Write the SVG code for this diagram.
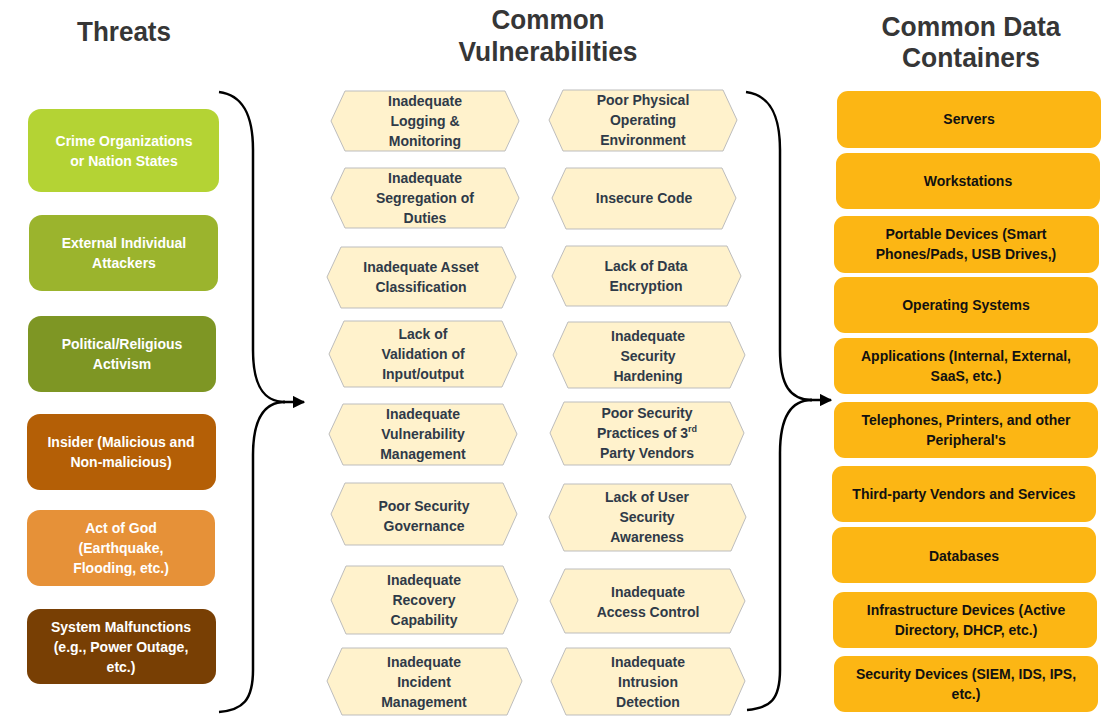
<svg xmlns="http://www.w3.org/2000/svg" width="1118" height="723" viewBox="0 0 1118 723">
<defs>
<style>
.hdr{font-family:"Liberation Sans",Arial,sans-serif;font-weight:bold;font-size:27px;fill:#363636;text-anchor:middle}
.t{font-family:"Liberation Sans",Arial,sans-serif;font-weight:bold;font-size:14px;text-anchor:middle}
.tw{fill:#ffffff}
.tv{fill:#2F3A48}
.tk{fill:#111111}
.hex{fill:#FFF2CC;stroke:#BDBDBD;stroke-width:1}
.box{stroke:none}
.cont{fill:#FCB614}
.br{fill:none;stroke:#000;stroke-width:2.5}
</style>
<marker id="ah" viewBox="0 0 10 10" refX="9" refY="5" markerWidth="5" markerHeight="5" markerUnits="strokeWidth" orient="auto">
<path d="M0,0 L10,5 L0,10 z" fill="#000"/>
</marker>
</defs>
<rect width="1118" height="723" fill="#ffffff"/>

<g id="headers">
<text class="hdr" x="124" y="41" textLength="94" lengthAdjust="spacingAndGlyphs">Threats</text>
<text class="hdr" x="548" y="29" textLength="113" lengthAdjust="spacingAndGlyphs">Common</text>
<text class="hdr" x="548" y="61" textLength="179" lengthAdjust="spacingAndGlyphs">Vulnerabilities</text>
<text class="hdr" x="971" y="36" textLength="179" lengthAdjust="spacingAndGlyphs">Common Data</text>
<text class="hdr" x="971" y="67" textLength="138" lengthAdjust="spacingAndGlyphs">Containers</text>
</g>

<g id="threats">
<g id="t1"><rect class="box" x="28" y="109" width="191" height="83" rx="13" fill="#B4D334"/>
<text class="t tw" x="124"><tspan x="124" y="146">Crime Organizations</tspan><tspan x="124" y="166">or Nation States</tspan></text></g>
<g id="t2"><rect class="box" x="29" y="215" width="189" height="76" rx="13" fill="#9BB42D"/>
<text class="t tw" x="124"><tspan x="124" y="248">External Individual</tspan><tspan x="124" y="268">Attackers</tspan></text></g>
<g id="t3"><rect class="box" x="28" y="316" width="188" height="76" rx="13" fill="#7E9624"/>
<text class="t tw" x="122"><tspan x="122" y="349">Political/Religious</tspan><tspan x="122" y="369">Activism</tspan></text></g>
<g id="t4"><rect class="box" x="27" y="414" width="189" height="76" rx="13" fill="#B45F06"/>
<text class="t tw" x="121"><tspan x="121" y="447">Insider (Malicious and</tspan><tspan x="121" y="467">Non-malicious)</tspan></text></g>
<g id="t5"><rect class="box" x="27" y="510" width="188" height="76" rx="13" fill="#E69138"/>
<text class="t tw" x="121"><tspan x="121" y="533">Act of God</tspan><tspan x="121" y="553">(Earthquake,</tspan><tspan x="121" y="573">Flooding, etc.)</tspan></text></g>
<g id="t6"><rect class="box" x="27" y="609" width="189" height="75" rx="13" fill="#783F04"/>
<text class="t tw" x="121"><tspan x="121" y="632">System Malfunctions</tspan><tspan x="121" y="652">(e.g., Power Outage,</tspan><tspan x="121" y="672">etc.)</tspan></text></g>
</g>

<g id="vulnerabilities">
<g id="v1"><polygon class="hex" points="331,121 345,91 505,91 519,121 505,151 345,151"/>
<text class="t tv"><tspan x="425" y="106">Inadequate</tspan><tspan x="425" y="126">Logging &amp;</tspan><tspan x="425" y="146">Monitoring</tspan></text></g>
<g id="v2"><polygon class="hex" points="331,198 345,168 505,168 519,198 505,228 345,228"/>
<text class="t tv"><tspan x="425" y="183">Inadequate</tspan><tspan x="425" y="203">Segregation of</tspan><tspan x="425" y="223">Duties</tspan></text></g>
<g id="v3"><polygon class="hex" points="327,277 341,247 502,247 516,277 502,308 341,308"/>
<text class="t tv"><tspan x="421" y="272">Inadequate Asset</tspan><tspan x="421" y="292">Classification</tspan></text></g>
<g id="v4"><polygon class="hex" points="329,354 344,321 502,321 517,354 502,387 344,387"/>
<text class="t tv"><tspan x="423" y="339">Lack of</tspan><tspan x="423" y="359">Validation of</tspan><tspan x="423" y="379">Input/output</tspan></text></g>
<g id="v5"><polygon class="hex" points="329,434 343,404 503,404 517,434 503,465 343,465"/>
<text class="t tv"><tspan x="423" y="419">Inadequate</tspan><tspan x="423" y="439">Vulnerability</tspan><tspan x="423" y="459">Management</tspan></text></g>
<g id="v6"><polygon class="hex" points="331,514 345,483 503,483 517,514 503,545 345,545"/>
<text class="t tv"><tspan x="424" y="511">Poor Security</tspan><tspan x="424" y="531">Governance</tspan></text></g>
<g id="v7"><polygon class="hex" points="331,600 346,566 503,566 518,600 503,634 346,634"/>
<text class="t tv"><tspan x="424" y="585">Inadequate</tspan><tspan x="424" y="605">Recovery</tspan><tspan x="424" y="625">Capability</tspan></text></g>
<g id="v8"><polygon class="hex" points="327,681 342,648 507,648 522,681 507,715 342,715"/>
<text class="t tv"><tspan x="424" y="667">Inadequate</tspan><tspan x="424" y="687">Incident</tspan><tspan x="424" y="707">Management</tspan></text></g>

<g id="v9"><polygon class="hex" points="549,120 563,90 723,90 737,120 723,151 563,151"/>
<text class="t tv"><tspan x="643" y="105">Poor Physical</tspan><tspan x="643" y="125">Operating</tspan><tspan x="643" y="145">Environment</tspan></text></g>
<g id="v10"><polygon class="hex" points="552,198 566,168 722,168 736,198 722,229 566,229"/>
<text class="t tv"><tspan x="644" y="203">Insecure Code</tspan></text></g>
<g id="v11"><polygon class="hex" points="552,276 566,246 727,246 741,276 727,306 566,306"/>
<text class="t tv"><tspan x="646" y="271">Lack of Data</tspan><tspan x="646" y="291">Encryption</tspan></text></g>
<g id="v12"><polygon class="hex" points="553,355 568,322 730,322 745,355 730,388 568,388"/>
<text class="t tv"><tspan x="648" y="341">Inadequate</tspan><tspan x="648" y="361">Security</tspan><tspan x="648" y="381">Hardening</tspan></text></g>
<g id="v13"><polygon class="hex" points="550,433 564,402 730,402 744,433 730,465 564,465"/>
<text class="t tv"><tspan x="647" y="418">Poor Security</tspan><tspan x="647" y="438">Practices of 3<tspan font-size="9" dy="-6">rd</tspan></tspan><tspan x="647" y="458">Party Vendors</tspan></text></g>
<g id="v14"><polygon class="hex" points="549,517 564,484 731,484 746,517 731,551 564,551"/>
<text class="t tv"><tspan x="647" y="502">Lack of User</tspan><tspan x="647" y="522">Security</tspan><tspan x="647" y="542">Awareness</tspan></text></g>
<g id="v15"><polygon class="hex" points="550,601 565,569 730,569 745,601 730,633 565,633"/>
<text class="t tv"><tspan x="648" y="597">Inadequate</tspan><tspan x="648" y="617">Access Control</tspan></text></g>
<g id="v16"><polygon class="hex" points="551,681 566,648 730,648 745,681 730,715 566,715"/>
<text class="t tv"><tspan x="648" y="667">Inadequate</tspan><tspan x="648" y="687">Intrusion</tspan><tspan x="648" y="707">Detection</tspan></text></g>
</g>

<g id="containers">
<g id="c1"><rect class="cont" x="837" y="91" width="264" height="57" rx="11"/>
<text class="t tk"><tspan x="969" y="124">Servers</tspan></text></g>
<g id="c2"><rect class="cont" x="836" y="153" width="264" height="56" rx="11"/>
<text class="t tk"><tspan x="968" y="186">Workstations</tspan></text></g>
<g id="c3"><rect class="cont" x="834" y="216" width="265" height="57" rx="11"/>
<text class="t tk"><tspan x="966" y="239">Portable Devices (Smart</tspan><tspan x="966" y="259">Phones/Pads, USB Drives,)</tspan></text></g>
<g id="c4"><rect class="cont" x="834" y="277" width="264" height="56" rx="11"/>
<text class="t tk"><tspan x="966" y="310">Operating Systems</tspan></text></g>
<g id="c5"><rect class="cont" x="834" y="338" width="264" height="56" rx="11"/>
<text class="t tk"><tspan x="966" y="361">Applications (Internal, External,</tspan><tspan x="966" y="381">SaaS, etc.)</tspan></text></g>
<g id="c6"><rect class="cont" x="834" y="402" width="264" height="56" rx="11"/>
<text class="t tk"><tspan x="966" y="425">Telephones, Printers, and other</tspan><tspan x="966" y="445">Peripheral's</tspan></text></g>
<g id="c7"><rect class="cont" x="832" y="466" width="264" height="56" rx="11"/>
<text class="t tk"><tspan x="964" y="499">Third-party Vendors and Services</tspan></text></g>
<g id="c8"><rect class="cont" x="832" y="527" width="264" height="56" rx="11"/>
<text class="t tk"><tspan x="964" y="561">Databases</tspan></text></g>
<g id="c9"><rect class="cont" x="833" y="592" width="264" height="56" rx="11"/>
<text class="t tk"><tspan x="966" y="615">Infrastructure Devices (Active</tspan><tspan x="966" y="635">Directory, DHCP, etc.)</tspan></text></g>
<g id="c10"><rect class="cont" x="834" y="656" width="264" height="56" rx="11"/>
<text class="t tk"><tspan x="966" y="679">Security Devices (SIEM, IDS, IPS,</tspan><tspan x="966" y="699">etc.)</tspan></text></g>
</g>

<g id="connectors">
<path class="br" d="M219,92 C243,95 253,115 253,150 L253,350 C253,385 263,402 285,402"/>
<path class="br" d="M285,402 C263,402 253,420 253,455 L253,670 C253,700 243,710 219,712"/>
<path class="br" d="M283,402 L304,402" marker-end="url(#ah)"/>
<path class="br" d="M746,92 C770,95 780,115 780,150 L780,350 C780,385 790,400 812,400"/>
<path class="br" d="M812,400 C790,400 780,418 780,453 L780,670 C780,700 770,708 747,710"/>
<path class="br" d="M810,400 L831,400" marker-end="url(#ah)"/>
</g>
</svg>
